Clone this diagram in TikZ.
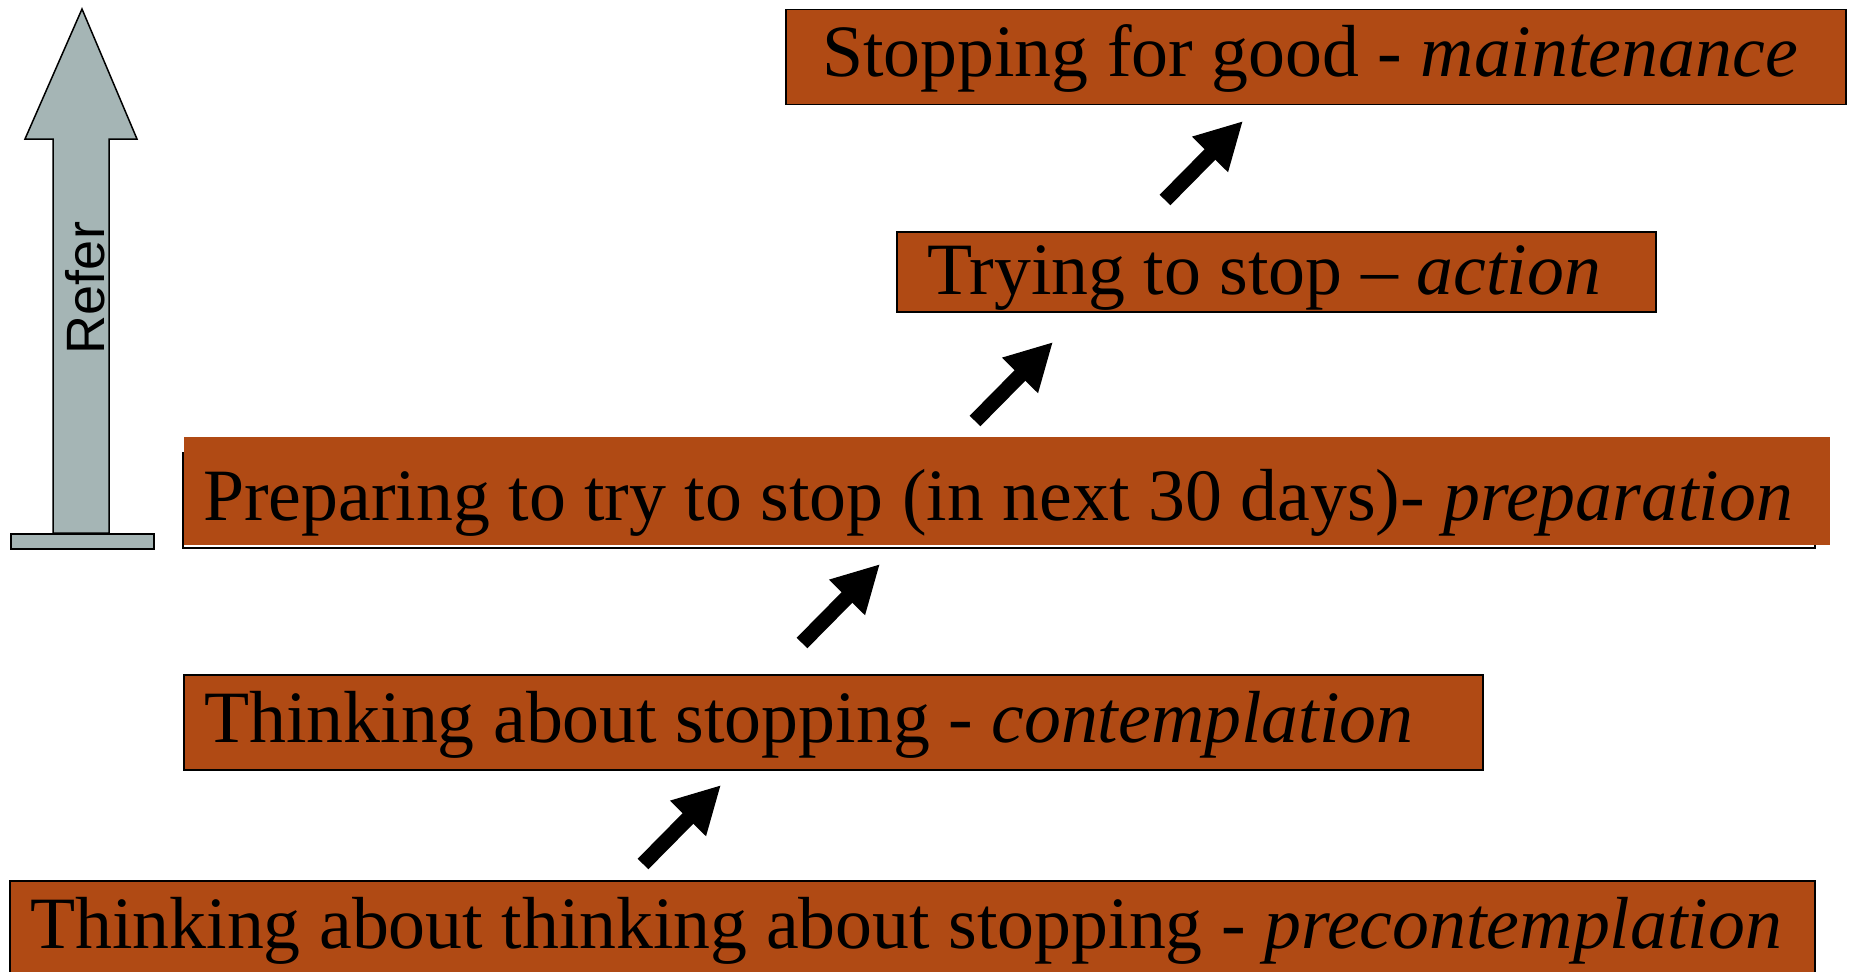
\documentclass[tikz,border=0pt]{standalone}
\usepackage{fontspec}
\setmainfont{Liberation Serif}
\newfontfamily\arialfont{Liberation Sans}
\usetikzlibrary{arrows.meta}
\definecolor{boxfill}{HTML}{B04A14}
\definecolor{refgray}{HTML}{A5B5B5}
\tikzset{
  stagebox/.style={fill=boxfill, draw=black, line width=1.5pt},
  stagetext/.style={anchor=base west, inner sep=0pt, font=\fontsize{73.8}{88}\selectfont},
  stepArrow/.style={line width=15pt, line cap=butt, -{Triangle[length=47pt,width=47pt]}, black},
}
\begin{document}
\begin{tikzpicture}[x=1pt,y=-1pt]
\useasboundingbox (0,0) rectangle (1851,971);
% Refer arrow
\path[fill=refgray, draw=black, line width=1.5pt]
  (82,9) -- (137,139) -- (109,139) -- (109,533) -- (53,533) -- (53,139) -- (25,139) -- cycle;
\node[fill=refgray, draw=black, line width=1.5pt, minimum width=143pt, minimum height=15pt, inner sep=0pt, anchor=north west] (base) at (10,533) {};
\node[rotate=90, inner sep=0pt, font=\arialfont\fontsize{54}{62}\selectfont] (refer) at (85,288) {Refer};

% stage boxes
\node[stagebox, anchor=north west, minimum width=1060pt, minimum height=95pt, inner sep=0pt] (maint) at (785,9) {};
\node[stagetext] (tmaint) at (822,77) {Stopping for good - \textit{maintenance}};

\node[stagebox, anchor=north west, minimum width=759pt, minimum height=80pt, inner sep=0pt] (act) at (896,231) {};
\node[stagetext] (tact) at (927,294) {Trying to stop -- \textit{action}};

\draw[black, line width=1.5pt] (183,452) -- (183,548) -- (1815,548) -- (1815,452);
\node[fill=boxfill, draw=none, anchor=north west, minimum width=1646pt, minimum height=108pt, inner sep=0pt] (prep) at (184,437) {};
\node[stagetext] (tprep) at (203,520) {Preparing to try to stop (in next 30 days)- \textit{preparation}};

\node[stagebox, anchor=north west, minimum width=1299pt, minimum height=95pt, inner sep=0pt] (cont) at (183,674) {};
\node[stagetext] (tcont) at (204,742) {Thinking about stopping - \textit{contemplation}};

\node[stagebox, anchor=north west, minimum width=1805pt, minimum height=110pt, inner sep=0pt] (pre) at (9,880) {};
\node[stagetext] (tpre) at (30,948) {Thinking about thinking about stopping - \textit{precontemplation}};

% step arrows
\coordinate (a1s) at (643,864); \coordinate (a1e) at (721,785);
\coordinate (a2s) at (802,643); \coordinate (a2e) at (880,564);
\coordinate (a3s) at (975,421); \coordinate (a3e) at (1053,342);
\coordinate (a4s) at (1165,200); \coordinate (a4e) at (1243,121);
\draw[stepArrow] (a1s) -- (a1e);
\draw[stepArrow] (a2s) -- (a2e);
\draw[stepArrow] (a3s) -- (a3e);
\draw[stepArrow] (a4s) -- (a4e);
\end{tikzpicture}
\end{document}
